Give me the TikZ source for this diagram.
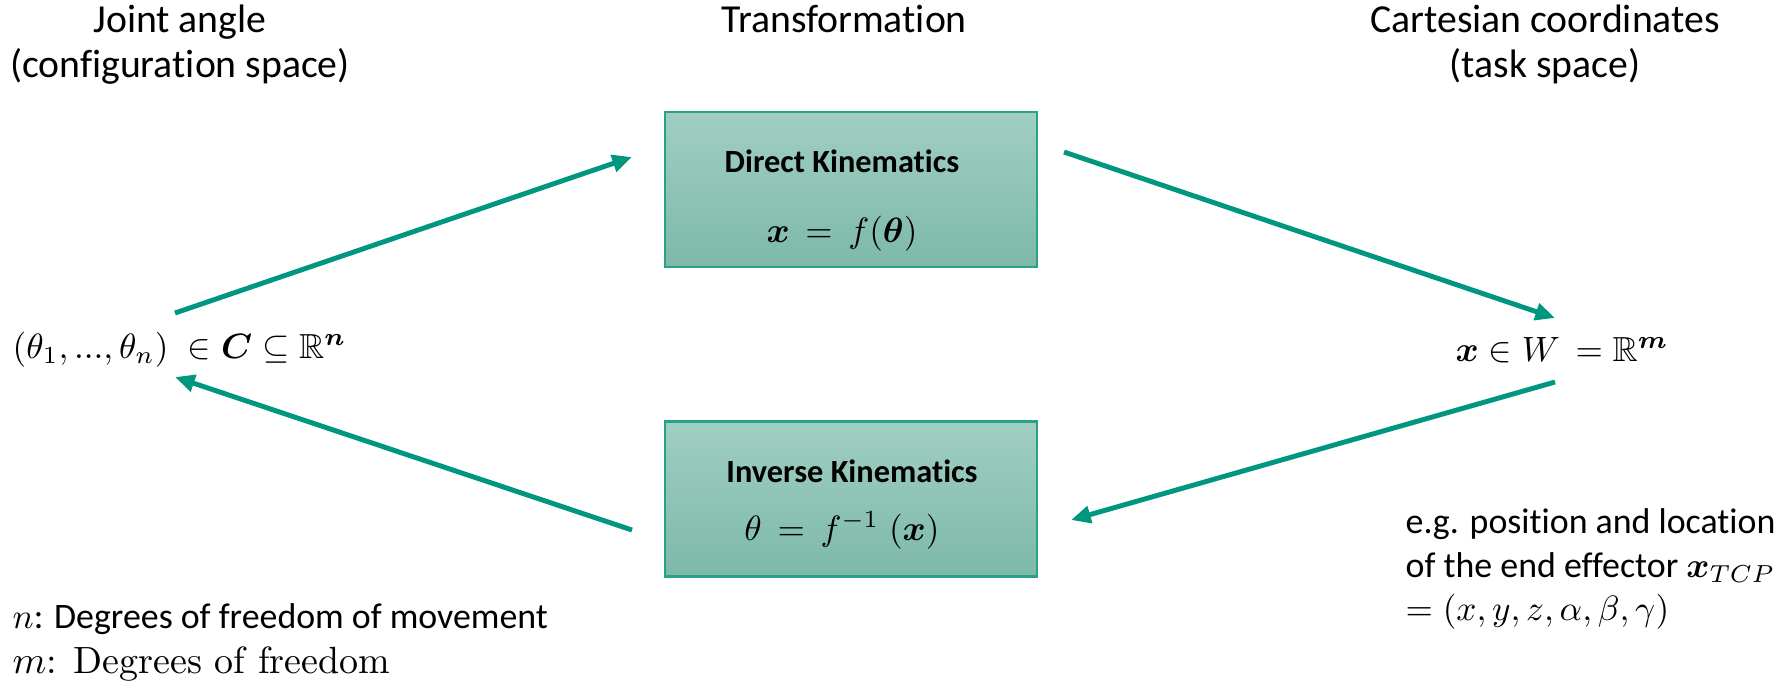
\documentclass[tikz,border=0pt]{standalone}
\usepackage{amsmath}
\usepackage{amssymb}
\usepackage{fontspec}
\setsansfont{Carlito}[Ligatures=NoCommon]
\usetikzlibrary{arrows.meta, positioning}
\definecolor{kinteal}{RGB}{0,150,128}
\definecolor{boxtop}{RGB}{160,207,194}
\definecolor{boxbot}{RGB}{125,185,168}
\definecolor{boxline}{RGB}{40,160,138}

\tikzset{
  head txt/.style={font=\sffamily\fontsize{11.3}{13.5}\selectfont, inner sep=0pt, anchor=base},
  note txt/.style={font=\sffamily\fontsize{10.2}{12.5}\selectfont, inner sep=0pt, anchor=base west},
  space eq/.style={note txt, font=\fontsize{9.9}{12}\selectfont},
  kin box/.style={rectangle, draw=boxline, line width=0.6pt, top color=boxtop, bottom color=boxbot, minimum width=3.72cm, minimum height=1.55cm, inner sep=0pt},
  box txt/.style={font=\sffamily\bfseries\fontsize{9.2}{11}\selectfont, inner sep=0pt, anchor=base},
  box eq/.style={font=\fontsize{10.4}{12}\selectfont, inner sep=0pt, anchor=base},
  kin arrow/.style={-{Triangle[length=5.6pt,width=4.8pt]}, line width=1.4pt, kinteal},
}

\begin{document}
\begin{tikzpicture}
\useasboundingbox (0,0) rectangle (17.88,-6.92);

% Headers
\node[head txt] (hdrjoint) at (1.80,-0.32) {Joint angle};
\node[head txt] (hdrconf) at (1.80,-0.77) {(configuration space)};
\node[head txt] (hdrtrans) at (8.44,-0.32) {Transformation};
\node[head txt] (hdrcart) at (15.45,-0.32) {Cartesian coordinates};
\node[head txt] (hdrtask) at (15.45,-0.77) {(task space)};

% Transformation boxes
\node[kin box] (direct) at (8.51,-1.895) {};
\node[box txt] (directtitle) at (8.42,-1.72) {Direct Kinematics};
\node[box eq] (directeq) at (8.42,-2.42) {$\boldsymbol{x} \,=\, f(\boldsymbol{\theta})$};

\node[kin box] (inverse) at (8.51,-4.99) {};
\node[box txt] (inversetitle) at (8.52,-4.82) {Inverse Kinematics};
\node[box eq] (inverseeq) at (8.42,-5.40) {$\theta \,=\, f^{-1}\;(\boldsymbol{x})$};

% Spaces
\node[space eq] (config) at (0.12,-3.58)
  {$(\theta_1, ..., \theta_n)\;\in \boldsymbol{C} \subseteq \mathbb{R}^{\boldsymbol{n}}$};
\node[space eq] (task) at (14.55,-3.61)
  {$\boldsymbol{x} \in W\, = \mathbb{R}^{\boldsymbol{m}}$};

% Notes
\node[note txt] (tcp1) at (14.05,-5.33) {e.g. position and location};
\node[note txt] (tcp2) at (14.05,-5.77) {of the end effector $\boldsymbol{x}_{TCP}$};
\node[note txt] (tcp3) at (14.05,-6.20) {$= (x, y, z, \alpha, \beta, \gamma)$};
\node[note txt] (dofn) at (0.12,-6.28) {$n$: Degrees of freedom of movement};
\node[note txt, font=\rmfamily\fontsize{10.8}{12.5}\selectfont] (dofm) at (0.12,-6.73) {$m$: Degrees of freedom};

% Arrows
\coordinate (a1s) at (1.75,-3.13);
\coordinate (a1e) at (6.32,-1.57);
\coordinate (a2s) at (10.64,-1.52);
\coordinate (a2e) at (15.55,-3.18);
\coordinate (a3s) at (15.55,-3.82);
\coordinate (a3e) at (10.71,-5.20);
\coordinate (a4s) at (6.32,-5.30);
\coordinate (a4e) at (1.75,-3.77);
\draw[kin arrow] (a1s) -- (a1e);
\draw[kin arrow] (a2s) -- (a2e);
\draw[kin arrow] (a3s) -- (a3e);
\draw[kin arrow] (a4s) -- (a4e);
\end{tikzpicture}
\end{document}
